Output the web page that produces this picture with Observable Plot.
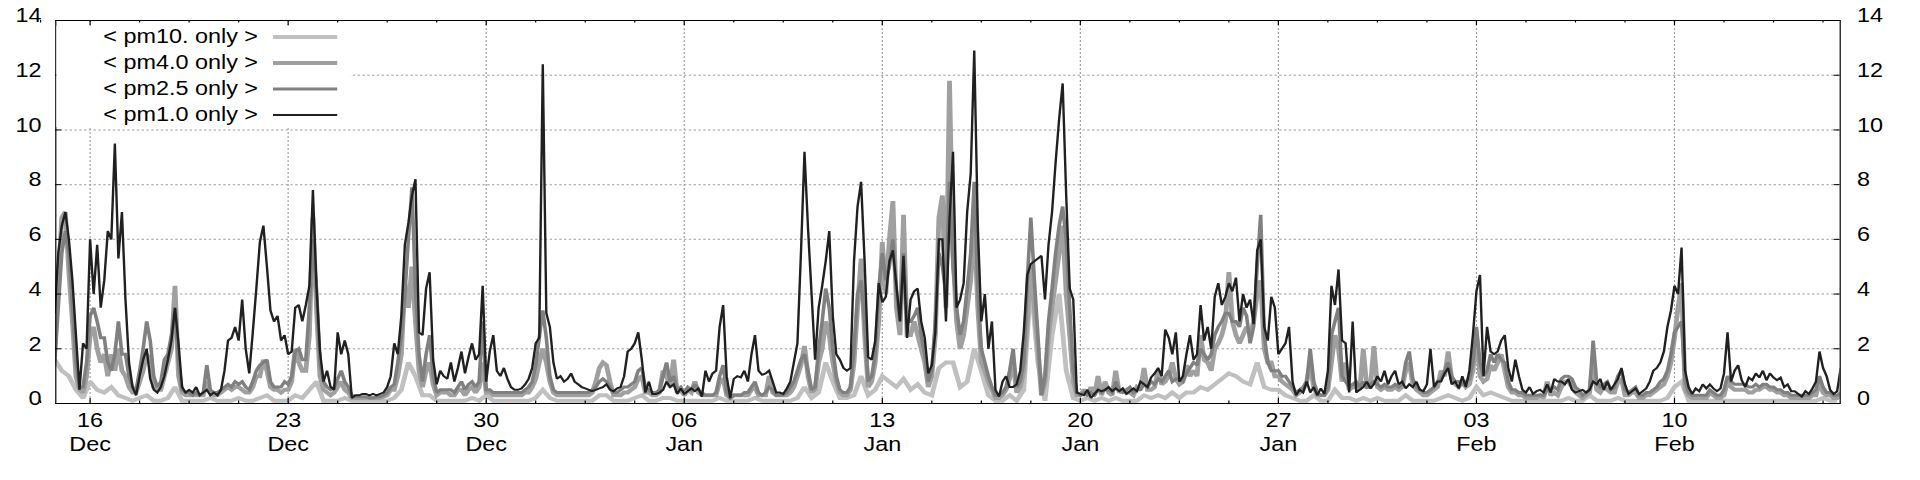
<!DOCTYPE html>
<html><head><meta charset="utf-8">
<script src="https://cdn.jsdelivr.net/npm/d3@7"></script>
<script src="https://cdn.jsdelivr.net/npm/@observablehq/plot@0.6"></script>
<style>
html,body{margin:0;padding:0;background:#fff;}
#chart svg{display:block;}
</style>
</head><body><div id="chart"></div>
<script>
// ---- series meta ----
const seriesNames  = ["< pm10. only >", "< pm4.0 only >", "< pm2.5 only >", "< pm1.0 only >"];
const seriesColors = ["#c0c0c0", "#a0a0a0", "#808080", "#202020"];
const seriesWidths = [4, 4, 3, 2];

// ---- axis ticks ----
const xTickDates  = ["2019-12-16","2019-12-23","2019-12-30","2020-01-06","2020-01-13","2020-01-20","2020-01-27","2020-02-03","2020-02-10"];
const xTickDays   = ["16","23","30","06","13","20","27","03","10"];
const xTickMonths = ["Dec","Dec","Dec","Jan","Jan","Jan","Jan","Feb","Feb"];
const yTicks = [0, 2, 4, 6, 8, 10, 12, 14];
const xDomain = ["2019-12-14T18:54Z", "2020-02-15T20:34Z"];

// ---- fine series: one value every 3 hours from 14 Dec 18:00 (one row per day) ----
const fineStart = "2019-12-14T18:00Z";
const fineStepHours = 3;
const pm1 = [
3.3,5.5,
6.5,7.0,6.0,4.5,2.5,0.5,2.2,2.0,
6.0,4.0,5.8,3.5,4.5,6.3,6.0,9.5,
5.3,7.0,3.8,1.5,0.6,0.3,1.0,1.6,
2.0,0.9,0.5,0.4,0.6,1.0,1.6,2.3,
3.5,2.2,0.6,0.4,0.5,0.4,0.6,0.3,
0.4,0.5,0.3,0.4,0.3,0.5,1.2,2.3,
2.4,2.8,2.3,3.8,2.0,1.1,2.6,4.2,
5.9,6.5,5.0,3.4,3.0,3.2,2.3,2.5,
1.8,1.9,3.5,3.6,3.0,3.6,4.3,7.8,
4.3,1.9,0.8,1.2,0.6,0.5,2.6,1.8,
2.3,1.8,0.2,0.3,0.3,0.35,0.35,0.3,
0.35,0.3,0.35,0.4,0.6,1.0,2.2,1.8,
3.2,5.8,6.6,7.6,8.2,2.6,2.5,4.2,
4.8,1.6,0.7,1.2,1.0,0.9,1.5,0.8,
1.3,1.9,1.1,1.7,2.2,1.6,1.8,4.3,
0.8,1.9,2.5,1.2,1.0,1.3,0.9,0.6,
0.5,0.5,0.55,0.7,0.9,1.3,2.2,2.4,
12.4,3.3,2.8,1.5,0.9,1.0,0.8,0.9,
1.1,0.8,0.7,0.6,0.55,0.5,0.45,0.5,
0.55,0.6,0.7,0.5,0.45,0.55,0.6,1.0,
1.9,2.0,2.2,2.6,1.6,0.4,0.8,0.35,
0.35,0.4,0.5,0.8,0.6,0.7,0.35,0.55,
0.35,0.45,0.55,0.45,0.55,0.25,1.2,0.8,
1.1,1.2,2.8,3.6,1.0,0.2,0.9,1.0,
0.95,1.2,0.8,1.8,2.5,1.2,1.05,1.1,
1.2,0.8,0.4,0.4,0.35,0.55,0.8,1.5,
2.2,5.5,9.2,6.4,4.0,1.6,3.5,4.3,
5.2,6.3,3.2,1.8,1.6,1.3,1.2,1.3,
5.2,7.2,8.1,5.2,1.7,1.6,2.3,4.4,
3.7,3.9,5.2,5.6,4.3,3.0,5.4,2.4,
3.8,4.1,4.2,3.0,2.4,1.1,1.4,2.6,
6.0,6.0,3.0,6.7,9.2,3.5,3.8,4.4,
7.0,8.4,12.9,6.5,3.0,4.0,2.0,3.0,
0.5,0.25,0.8,1.0,0.6,0.6,0.7,1.2,
2.6,4.7,5.1,5.2,5.3,5.4,3.8,5.8,
7.0,8.8,10.4,11.7,7.6,4.2,3.8,0.4,
0.35,0.3,0.5,0.2,0.35,0.5,0.45,0.5,
0.6,0.45,0.55,0.45,0.55,0.35,0.45,0.55,
0.45,0.8,0.7,0.6,0.95,1.1,1.3,1.0,
2.7,2.4,1.8,2.6,0.8,1.0,1.8,2.5,
1.6,1.8,3.6,2.3,2.8,2.0,3.9,4.4,
3.6,3.9,4.4,4.1,4.6,3.0,4.0,3.5,
3.8,2.9,5.6,6.0,2.8,2.3,3.9,3.5,
1.8,2.0,2.2,2.8,0.8,0.3,0.5,0.4,
0.8,0.4,0.6,0.3,0.55,0.35,1.2,4.3,
3.6,4.9,2.3,2.2,0.4,3.0,0.4,0.5,
0.6,0.8,0.55,0.7,1.0,0.8,1.2,0.7,
1.0,1.2,0.7,0.8,0.55,0.7,0.6,0.8,
0.5,0.45,0.7,2.0,0.6,0.8,0.8,1.1,
1.3,0.7,0.8,0.55,1.0,0.6,1.2,2.5,
4.1,4.7,1.0,2.8,1.9,1.8,1.9,2.3,
2.5,1.3,0.8,1.6,1.0,0.5,0.4,0.6,
0.35,0.45,0.5,0.4,0.7,0.4,0.9,0.8,
0.8,0.7,0.9,0.5,0.4,0.45,0.5,0.4,
0.5,0.8,0.7,0.9,0.5,0.8,0.5,0.7,
0.9,1.3,0.7,0.35,0.45,0.55,0.35,0.45,
0.55,0.8,1.2,1.3,1.5,1.9,2.8,3.4,
4.3,4.0,5.7,1.2,0.6,0.35,0.55,0.45,
0.7,0.55,0.7,0.55,0.45,0.55,1.1,2.6,
0.8,1.2,1.4,0.85,0.6,0.95,0.85,1.1,
0.95,1.2,0.85,1.1,0.95,0.85,0.95,0.6,
0.7,0.45,0.45,0.35,0.25,0.45,0.35,0.55,
0.8,1.9,1.3,1.0,0.5,0.35,0.45,1.3
];
const pm25 = [
1.5,3.5,
5.5,6.3,5.5,3.6,1.5,0.6,0.6,1.5,
3.2,3.5,3.0,2.4,2.4,1.5,1.2,1.8,
3.0,1.8,1.8,1.0,0.6,0.5,1.2,2.0,
3.0,2.3,1.0,0.6,0.8,1.6,1.8,2.5,
3.5,1.5,0.5,0.4,0.4,0.3,0.4,0.3,
0.4,1.4,0.5,0.4,0.4,0.5,0.6,0.7,
0.6,0.8,0.7,0.8,0.6,0.5,0.8,1.2,
1.4,1.5,1.6,0.8,0.6,0.6,0.6,0.8,
0.7,1.0,1.9,2.0,1.6,1.6,3.5,6.0,
4.2,1.5,0.8,0.6,0.5,0.6,0.9,1.2,
0.8,0.6,0.3,0.25,0.25,0.25,0.25,0.2,
0.2,0.25,0.25,0.3,0.4,0.6,0.7,1.5,
2.5,4.0,6.0,7.9,4.2,1.8,0.8,1.8,
2.5,1.0,0.4,0.5,0.5,0.5,0.5,0.4,
0.6,0.8,0.5,0.7,0.8,0.6,0.8,3.0,
0.5,0.5,0.4,0.4,0.4,0.4,0.4,0.4,
0.4,0.4,0.4,0.5,0.6,0.8,1.4,2.4,
3.4,2.4,1.0,0.5,0.4,0.4,0.4,0.4,
0.4,0.4,0.4,0.4,0.4,0.4,0.5,0.6,
0.8,0.9,0.8,0.6,0.4,0.4,0.5,0.6,
0.6,0.7,0.8,1.2,1.3,0.6,0.5,0.4,
0.4,0.5,1.0,1.5,0.8,1.0,0.5,0.6,
0.4,0.6,0.5,0.7,0.5,0.4,0.3,0.3,
0.3,0.4,1.0,1.4,0.4,0.2,0.3,0.3,
0.3,0.4,0.4,0.6,0.8,0.4,0.3,0.4,
0.6,0.5,0.3,0.3,0.3,0.4,0.6,0.8,
1.2,1.6,1.8,1.2,0.5,0.6,2.0,3.0,
4.2,3.5,2.0,1.0,0.5,0.4,0.4,0.6,
2.0,4.0,4.5,3.0,0.8,1.0,1.8,4.2,
5.5,4.5,5.0,6.0,4.0,3.0,5.5,3.0,
3.0,3.2,3.5,2.5,1.8,0.8,1.2,3.0,
5.5,5.0,4.0,8.1,5.0,3.5,2.5,3.0,
4.2,5.5,8.1,4.2,2.0,1.5,1.0,0.6,
0.3,0.3,0.4,0.6,1.2,2.0,0.6,0.8,
1.5,4.5,6.8,4.5,2.5,0.3,1.0,3.0,
4.2,5.5,6.5,7.2,6.0,3.5,1.2,0.4,
0.3,0.4,0.3,0.4,0.3,0.5,0.4,0.5,
0.5,0.4,0.8,0.5,0.4,0.5,0.6,0.4,
0.5,0.5,0.7,0.6,0.8,0.7,0.9,0.8,
1.0,1.2,0.8,0.9,0.9,0.8,1.1,1.3,
1.5,1.4,2.0,1.8,1.6,1.8,2.5,2.8,
3.0,3.3,3.3,3.0,3.0,2.8,3.5,3.2,
2.2,2.8,5.0,6.9,2.5,1.5,1.2,1.2,
1.2,1.0,1.0,0.8,0.6,0.4,0.5,0.6,
0.8,2.0,0.8,0.4,0.3,0.3,0.6,2.5,
3.0,3.5,1.0,0.8,0.6,0.7,0.8,0.6,
0.8,0.6,0.7,0.8,0.7,0.6,0.7,0.6,
0.6,0.7,0.6,0.7,1.5,1.9,0.9,0.6,
0.5,0.4,0.4,0.5,0.6,0.8,0.9,1.2,
1.5,1.0,0.8,0.8,0.7,0.8,0.9,1.5,
2.8,1.5,1.0,1.2,1.8,1.5,1.8,1.6,
1.5,0.8,0.5,0.5,0.4,0.4,0.3,0.3,
0.3,0.3,0.3,0.3,0.5,0.5,0.6,0.5,
0.9,1.0,1.0,0.9,0.6,0.5,0.3,0.4,
0.5,2.3,0.8,0.6,0.7,0.8,0.5,0.6,
1.0,1.2,0.5,0.4,0.5,0.6,0.3,0.3,
0.4,0.4,0.5,0.6,0.8,0.9,1.2,1.8,
2.6,2.8,3.0,0.8,0.4,0.3,0.3,0.3,
0.3,0.3,0.5,0.4,0.3,0.3,0.5,1.0,
0.8,0.7,0.7,0.7,0.7,0.6,0.6,0.7,
0.6,0.7,0.7,0.6,0.6,0.5,0.5,0.4,
0.4,0.3,0.3,0.3,0.3,0.3,0.3,0.4,
0.5,1.0,0.6,0.4,0.4,0.3,0.3,0.4
];
const pm4 = [
2.0,4.5,
6.8,7.0,4.8,3.0,1.0,0.5,0.4,1.0,
2.5,2.8,2.0,1.5,1.8,1.0,1.8,1.2,
2.0,1.2,1.0,0.6,0.4,0.4,0.8,1.2,
1.8,1.5,0.6,0.5,0.5,1.0,1.5,2.0,
4.3,1.0,0.4,0.3,0.3,0.3,0.3,0.3,
0.3,0.8,0.4,0.3,0.3,0.4,0.5,0.6,
0.5,0.6,0.6,0.5,0.4,0.4,0.6,1.0,
1.0,1.6,1.2,0.6,0.5,0.5,0.4,0.5,
0.5,0.8,2.0,1.5,1.2,1.2,2.5,6.8,
3.5,1.0,0.5,0.4,0.3,0.4,0.6,0.8,
0.5,0.4,0.2,0.2,0.2,0.2,0.2,0.2,
0.2,0.2,0.2,0.25,0.3,0.5,0.5,1.0,
1.8,4.4,3.5,5.0,3.0,1.2,0.6,1.2,
1.5,0.7,0.3,0.4,0.4,0.4,0.3,0.3,
0.5,0.5,0.3,0.5,0.6,0.4,0.6,1.5,
0.4,0.4,0.3,0.3,0.3,0.3,0.3,0.3,
0.3,0.3,0.3,0.4,0.4,0.6,0.9,1.5,
2.0,1.5,0.8,0.4,0.3,0.3,0.3,0.3,
0.3,0.3,0.3,0.3,0.3,0.3,0.4,0.8,
1.3,1.5,1.4,0.8,0.3,0.3,0.3,0.4,
0.4,0.5,0.6,0.9,1.0,0.4,0.4,0.3,
0.3,0.4,1.2,1.0,0.6,1.6,0.4,0.5,
0.3,0.5,0.4,0.8,0.4,0.3,0.3,0.3,
0.3,0.3,0.8,0.9,0.3,0.2,0.3,0.3,
0.3,0.3,0.3,0.5,0.6,0.3,0.3,0.3,
1.0,0.4,0.3,0.3,0.3,0.3,0.4,0.6,
1.0,1.4,2.1,1.0,0.4,0.5,1.5,2.0,
3.0,2.5,1.5,0.8,0.4,0.3,0.3,0.5,
1.5,3.5,5.3,2.5,0.6,0.8,1.5,3.0,
5.9,4.0,6.0,7.4,3.5,2.5,6.9,2.5,
2.5,3.0,2.5,2.0,1.5,0.6,1.0,2.5,
6.8,7.6,3.5,11.8,5.5,3.0,2.0,2.5,
3.5,4.5,6.7,3.5,1.5,1.2,0.8,0.5,
0.2,0.2,0.3,0.5,0.9,1.5,0.4,0.6,
1.2,3.0,5.0,3.5,2.0,0.3,0.8,2.5,
3.5,4.5,5.5,6.5,4.0,2.5,0.8,0.3,
0.3,0.5,0.3,0.6,0.3,1.0,0.3,0.8,
0.4,0.3,1.2,0.4,0.5,0.4,0.4,0.3,
0.6,0.5,1.3,0.5,0.5,0.6,1.2,0.7,
0.8,1.0,1.5,0.9,0.7,0.8,1.4,1.0,
1.2,1.0,2.5,1.6,1.5,1.2,2.0,2.2,
2.5,3.0,4.8,3.0,2.5,2.2,2.5,2.8,
2.5,3.0,4.0,4.5,2.0,1.5,1.5,1.0,
1.0,0.8,0.7,0.6,0.5,0.3,0.4,0.5,
0.8,1.4,0.6,0.3,0.3,0.3,0.5,1.5,
2.5,2.0,0.8,1.5,0.5,0.6,0.6,0.5,
2.0,0.6,0.6,2.1,0.6,0.5,0.6,0.5,
0.5,0.6,0.5,0.6,1.2,1.5,0.7,0.5,
0.4,0.3,0.3,0.4,0.5,0.6,1.2,1.0,
1.9,0.9,0.7,0.6,0.8,0.6,0.7,1.2,
2.5,1.0,0.8,0.9,1.4,1.2,1.5,1.8,
1.2,0.6,0.4,0.4,0.3,0.3,0.2,0.2,
0.2,0.2,0.3,0.2,0.8,0.3,0.4,0.3,
0.6,0.8,0.8,0.6,0.4,0.3,0.2,0.3,
0.4,1.5,0.5,0.4,0.6,0.5,0.4,0.4,
0.8,0.9,0.3,0.3,0.4,0.4,0.2,0.2,
0.3,0.3,0.4,0.5,0.6,0.7,1.0,1.5,
2.4,3.5,4.4,0.5,0.3,0.2,0.2,0.2,
0.2,0.2,0.4,0.3,0.2,0.2,0.3,0.8,
0.6,0.5,0.5,0.5,0.5,0.4,0.4,0.5,
0.5,0.6,0.6,0.5,0.5,0.4,0.4,0.3,
0.3,0.2,0.2,0.2,0.2,0.2,0.2,0.3,
0.3,0.8,0.4,0.3,0.3,0.2,0.2,0.3
];

// ---- pm10 only: one value every 6 hours from 14 Dec 18:00 ----
const coarseStart = "2019-12-14T18:00Z";
const coarseStepHours = 6;
const pm10 = [
1.6,
1.2,1.0,0.5,0.2, 0.8,0.5,0.4,0.6, 0.3,0.2,0.1,0.2, 0.3,0.1,0.1,0.2, 0.6,0.1,0.1,0.1,
0.1,0.2,0.1,0.1, 0.1,0.2,0.1,0.1, 0.2,0.3,0.1,0.1, 0.1,0.3,0.2,0.5, 0.8,0.1,0.1,0.1,
0.2,0.1,0.1,0.1, 0.1,0.1,0.1,0.2, 0.5,1.5,1.0,0.3, 0.3,0.1,0.1,0.1, 0.1,0.1,0.2,0.1,
0.3,0.1,0.1,0.1, 0.1,0.1,0.1,0.2, 0.5,0.2,0.1,0.1, 0.1,0.1,0.1,0.1, 0.3,0.3,0.1,0.1,
0.1,0.2,0.3,0.1, 0.1,0.2,0.2,0.1, 0.1,0.1,0.1,0.1, 0.1,0.2,0.1,0.1, 0.1,0.1,0.2,0.1,
0.1,0.1,0.1,0.1, 0.2,0.6,0.2,0.4, 1.5,0.8,0.2,0.2, 0.3,1.0,0.3,0.5, 1.0,0.8,0.6,0.9,
0.5,0.7,0.4,0.3, 1.3,1.5,1.5,0.6, 0.8,2.0,1.2,0.3, 0.1,0.1,0.3,0.1, 0.5,4.5,1.5,0.1,
2.5,4.0,1.2,0.2, 0.1,0.2,0.1,0.2, 0.1,0.2,0.1,0.1, 0.1,0.3,0.2,0.3, 0.2,0.4,0.2,0.4,
0.4,0.6,0.5,0.7, 0.9,1.1,1.0,0.8, 0.7,1.5,0.6,0.5, 0.5,0.3,0.2,0.1, 0.1,0.3,0.1,0.1,
0.5,0.2,0.2,0.1, 0.2,0.1,0.2,0.1, 0.1,0.1,0.3,0.1, 0.1,0.1,0.1,0.2, 0.3,0.2,0.1,0.2,
0.6,0.3,0.4,0.3, 0.2,0.1,0.1,0.1, 0.1,0.1,0.1,0.1, 0.1,0.2,0.1,0.1, 0.3,0.1,0.1,0.1,
0.2,0.1,0.1,0.1, 0.1,0.1,0.1,0.2, 0.6,0.8,0.1,0.1, 0.1,0.1,0.1,0.1, 0.1,0.1,0.1,0.1,
0.1,0.1,0.1,0.1, 0.1,0.1,0.1,0.1, 0.1,0.2,0.1,0.1
];

for (const [name, arr, n] of [["pm1", pm1, 506], ["pm25", pm25, 506], ["pm4", pm4, 506], ["pm10", pm10, 253]])
  if (arr.length !== n) throw new Error(`${name} has ${arr.length} values, expected ${n}`);

// ---- build tables ----
const HOUR = 3600e3;
function toRows(values, start, stepHours) {
  const t0 = Date.parse(start);
  return values.map((v, i) => ({t: new Date(t0 + i * stepHours * HOUR), v}));
}
const seriesData = [
  toRows(pm10, coarseStart, coarseStepHours),
  toRows(pm4, fineStart, fineStepHours),
  toRows(pm25, fineStart, fineStepHours),
  toRows(pm1, fineStart, fineStepHours)
];
const xTicks = xTickDates.map(s => new Date(s + "T00:00Z"));
const dayLabel = new Map(xTicks.map((d, i) => [+d, xTickDays[i]]));
const monLabel = new Map(xTicks.map((d, i) => [+d, xTickMonths[i]]));
// minor tics: 4 per week
const minorTicks = [];
for (const d of [new Date(+xTicks[0] - 7 * 24 * HOUR), ...xTicks])
  for (let k = 1; k < 4; k++) minorTicks.push(new Date(+d + k * 42 * HOUR));

// ---- geometry (drawn at 1600 wide, stretched to 1920) ----
const W = 1600, H = 480;
const mL = 46, mR = 67, mT = 20, mB = 77;
const plotW = W - mL - mR, plotH = H - mT - mB;
const FONT = "'Liberation Sans', Arial, sans-serif";

const svg = Plot.plot({
  width: W, height: H,
  marginLeft: mL, marginRight: mR, marginTop: mT, marginBottom: mB,
  style: {fontFamily: FONT, fontSize: "19.5px", color: "#000", background: "#fff"},
  x: {type: "utc", domain: xDomain.map(s => new Date(s))},
  y: {domain: [0, 14]},
  marks: [
    Plot.gridX({ticks: xTicks, stroke: "#a0a0a0", strokeOpacity: 1, strokeDasharray: "2,2"}),
    Plot.gridY({ticks: yTicks.slice(1, -1), stroke: "#a0a0a0", strokeOpacity: 1, strokeDasharray: "2,2"}),
    ...seriesData.map((rows, i) => Plot.line(rows, {
      x: "t", y: "v", stroke: seriesColors[i], strokeWidth: seriesWidths[i],
      strokeLinejoin: "miter", strokeLinecap: "butt", strokeMiterlimit: 2, clip: true
    })),
    // inward tics on all four sides
    Plot.tickX(xTicks, {x: d => d, stroke: "#000", insetTop: plotH - 5}),
    Plot.tickX(xTicks, {x: d => d, stroke: "#000", insetBottom: plotH - 5}),
    Plot.tickX(minorTicks, {x: d => d, stroke: "#000", insetTop: plotH - 2.5}),
    Plot.tickX(minorTicks, {x: d => d, stroke: "#000", insetBottom: plotH - 2.5}),
    Plot.tickY(yTicks, {y: d => d, stroke: "#000", insetRight: plotW - 5}),
    Plot.tickY(yTicks, {y: d => d, stroke: "#000", insetLeft: plotW - 5}),
    Plot.axisX({ticks: xTicks, tickSize: 0, tickPadding: 10, tickFormat: d => dayLabel.get(+d), label: null}),
    Plot.axisX({ticks: xTicks, tickSize: 0, tickPadding: 34, tickFormat: d => monLabel.get(+d), label: null}),
    Plot.axisY({anchor: "left", ticks: yTicks, tickSize: 0, tickPadding: 12, dy: -4.5, label: null}),
    Plot.axisY({anchor: "right", ticks: yTicks, tickSize: 0, tickPadding: 14, dy: -4.5, label: null}),
    Plot.frame({stroke: "#000", strokeWidth: 1})
  ]
});

// stretch horizontally to the 1920x480 window
svg.setAttribute("width", 1920);
svg.setAttribute("height", 480);
svg.setAttribute("viewBox", `0 0 ${W} ${H}`);
svg.setAttribute("preserveAspectRatio", "none");
svg.style.width = "1920px";
svg.style.height = "480px";
svg.style.maxWidth = "none";

// ---- key (opaque box, top-left inside the frame) ----
const key = d3.select(svg).append("g").attr("class", "key");
key.append("rect").attr("x", mL + 1).attr("y", mT + 6).attr("width", 245).attr("height", 101).attr("fill", "#fff");
seriesNames.forEach((name, i) => {
  const yc = 37 + 26 * i;
  key.append("text").attr("x", 215).attr("y", yc + 6.5).attr("text-anchor", "end")
    .attr("font-family", FONT).attr("font-size", 19.5).attr("fill", "#000").text(name);
  key.append("line").attr("x1", 227.5).attr("x2", 281).attr("y1", yc).attr("y2", yc)
    .attr("stroke", seriesColors[i]).attr("stroke-width", seriesWidths[i]);
});

document.getElementById("chart").appendChild(svg);
</script>
</body></html>
